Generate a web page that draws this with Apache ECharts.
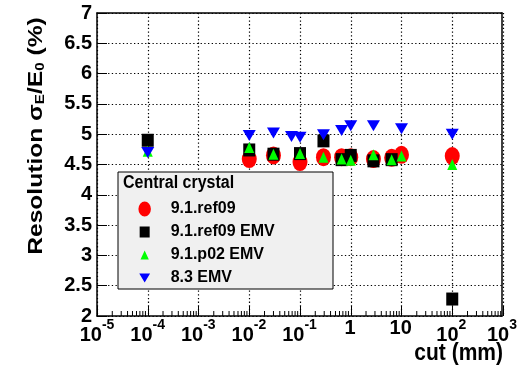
<!DOCTYPE html>
<html>
<head>
<meta charset="utf-8">
<script src="https://cdn.jsdelivr.net/npm/echarts@6/dist/echarts.min.js"></script>
<style>
html,body{margin:0;padding:0;background:#fff;}
#wrap{position:relative;width:520px;height:367px;}
#a,#b{position:absolute;left:0;top:0;width:520px;height:367px;}
</style>
</head>
<body>
<div id="wrap"><div id="a"></div><div id="b"></div></div>
<script>
// ---- data ----
const cuts = [1e-4, 0.01, 0.03, 0.068, 0.1, 0.29, 0.66, 1, 2.8, 6.4, 10, 100];
const ref09 = [null, 4.59, 4.65, null, 4.54, 4.62, 4.62, 4.62, 4.59, 4.61, 4.66, 4.64];
const ref09EMV = [4.90, 4.74, 4.67, null, 4.68, 4.89, 4.58, 4.65, 4.56, 4.58, null, 2.28];
const p02EMV = [4.72, 4.78, 4.67, null, 4.68, 4.62, 4.59, 4.57, 4.66, 4.58, 4.64, 4.50];
const emv83 = [4.70, 4.98, 5.02, 4.96, 4.95, 4.99, 5.06, 5.14, 5.14, null, 5.09, 5.00];
const seriesNames = ['9.1.ref09', '9.1.ref09 EMV', '9.1.p02 EMV', '8.3 EMV'];
const xTickLabels = {'-5':'{b|10}{s|-5}','-4':'{b|10}{s|-4}','-3':'{b|10}{s|-3}','-2':'{b|10}{s|-2}','-1':'{b|10}{s|-1}','0':'{b|1}','1':'{b|10}','2':'{b|10}{s|2}','3':'{b|10}{s|3}'};
const legendTitle = 'Central crystal';
const xTitle = 'cut (mm)';

function pairs(vals){ const out=[]; vals.forEach((v,i)=>{ if(v!==null) out.push([cuts[i], v]); }); return out; }
const minorTicks = [];
for (let e=-5; e<3; e++) for (let k=2; k<10; k++) minorTicks.push([k*Math.pow(10,e), 2]);

const FONT = 'Liberation Sans';
const downTri = 'path://M0,0 L12,0 L6,11 Z';
const GRID = {left:97, right:17, top:13, bottom:51};
const markerStyles = [
  {symbol:'circle', symbolSize:[15,18], color:'#ff0000'},
  {symbol:'rect', symbolSize:[12,13], color:'#000000'},
  {symbol:'triangle', symbolSize:[10,11], color:'#00ff00'},
  {symbol:downTri, symbolSize:[13,11], color:'#0000ff'}
];
const seriesData = [ref09, ref09EMV, p02EMV, emv83];

// ---- layer A: grid lines, ticks, minor ticks and the data ----
const chartA = echarts.init(document.getElementById('a'));
chartA.setOption({
  animation:false,
  grid:GRID,
  xAxis:{type:'log', logBase:10, min:1e-5, max:1e3,
    axisLine:{show:false},
    axisTick:{show:true, inside:true, length:10, lineStyle:{color:'#000', width:1}},
    axisLabel:{show:false},
    splitLine:{show:true, lineStyle:{color:'#000', type:[1.3,2.4], width:1.2}}},
  yAxis:{type:'value', min:2, max:7, interval:0.5,
    axisLine:{show:false},
    axisTick:{show:true, inside:true, length:10, lineStyle:{color:'#000', width:1}},
    axisLabel:{show:false},
    splitLine:{show:true, lineStyle:{color:'#000', type:[1.3,2.4], width:1.2}}},
  series: seriesData.map((vals, i) => ({
    name:seriesNames[i], type:'scatter', data:pairs(vals),
    symbol:markerStyles[i].symbol, symbolSize:markerStyles[i].symbolSize,
    itemStyle:{color:markerStyles[i].color, opacity:1}, z:5+i
  })).concat([{
    type:'custom', data:minorTicks, clip:false, silent:true, z:4,
    renderItem:(params, api)=>{
      const p = api.coord([api.value(0), api.value(1)]);
      return {type:'line', shape:{x1:p[0], y1:p[1], x2:p[0], y2:p[1]-5}, style:{stroke:'#000', lineWidth:1}};
    }
  }])
});

// ---- layer B: frame, tick labels, titles and legend ----
const frameOnly = {axisLine:{show:true, onZero:false, lineStyle:{color:'#000', width:1.5}}, axisTick:{show:false}, axisLabel:{show:false}, splitLine:{show:false}};
const chartB = echarts.init(document.getElementById('b'));
chartB.setOption({
  animation:false,
  backgroundColor:'transparent',
  grid:GRID,
  xAxis:[{
    type:'log', logBase:10, min:1e-5, max:1e3,
    axisLine:{show:true, onZero:false, lineStyle:{color:'#000', width:1.5}},
    axisTick:{show:false}, splitLine:{show:false},
    axisLabel:{
      margin:2, color:'#000',
      formatter:(v)=>{ const e=Math.round(Math.log10(v)); return xTickLabels[String(e)] || ''; },
      rich:{
        b:{fontFamily:FONT, fontWeight:'bold', fontSize:20, color:'#000'},
        s:{fontFamily:FONT, fontWeight:'bold', fontSize:14, padding:[0,0,20,0], color:'#000'}
      }
    }
  }, Object.assign({type:'log', logBase:10, min:1e-5, max:1e3, position:'top'}, frameOnly)],
  yAxis:[{
    type:'value', min:2, max:7, interval:0.5,
    axisLine:{show:true, onZero:false, lineStyle:{color:'#000', width:1.5}},
    axisTick:{show:false}, splitLine:{show:false},
    axisLabel:{margin:5, color:'#000', fontFamily:FONT, fontWeight:'bold', fontSize:20}
  }, Object.assign({type:'value', min:2, max:7, interval:0.5, position:'right'}, frameOnly)],
  legend:{
    show:true, orient:'vertical', left:138, top:201, selectedMode:false,
    itemWidth:42, itemHeight:15, itemGap:7, padding:0,
    textStyle:{fontFamily:FONT, fontWeight:'bold', fontSize:16, color:'#000', lineHeight:16},
    data:[
      {name:seriesNames[0], icon:'path://M0,0 L0,0 Z M16,18 L16,18 Z M8,0 A7.5,9 0 1 1 7.99,0 Z'},
      {name:seriesNames[1], icon:'path://M0,0 L0,0 Z M16,18 L16,18 Z M2,2.5 L14,2.5 L14,15.5 L2,15.5 Z'},
      {name:seriesNames[2], icon:'path://M0,0 L0,0 Z M16,18 L16,18 Z M8,3.5 L13,14.5 L3,14.5 Z'},
      {name:seriesNames[3], icon:'path://M0,0 L0,0 Z M16,18 L16,18 Z M1.5,3.5 L14.5,3.5 L8,14.5 Z'}
    ],
    z:12
  },
  graphic:[
    {type:'rect', z:10, shape:{x:118, y:172, width:215, height:117}, style:{fill:'#f0f0f0', stroke:'#000', lineWidth:1}},
    {type:'text', z:13, x:123, y:183, scaleY:1.15, style:{text:legendTitle, fontFamily:FONT, fontWeight:'bold', fontSize:16, fill:'#000', verticalAlign:'middle'}},
    {type:'text', z:13, x:503, y:354, scaleY:1.1, style:{text:xTitle, fontFamily:FONT, fontWeight:'bold', fontSize:21, fill:'#000', align:'right', verticalAlign:'middle'}},
    {type:'text', z:13, x:36, y:136, rotation:Math.PI/2, scaleX:1.17,
      style:{text:'{a|Resolution σ}{u|E}{a|/E}{u|0}{a| (%)}', align:'center', verticalAlign:'middle',
        rich:{
          a:{fontFamily:FONT, fontWeight:'bold', fontSize:21, lineHeight:21, padding:[0,0,5,0], verticalAlign:'top', fill:'#000'},
          u:{fontFamily:FONT, fontWeight:'bold', fontSize:13, lineHeight:13, verticalAlign:'bottom', fill:'#000'}
        }}}
  ],
  // legend entries only: the marks themselves are drawn in layer A
  series: seriesNames.map((n, i) => ({
    name:n, type:'scatter', data:[], symbol:markerStyles[i].symbol,
    itemStyle:{color:markerStyles[i].color, opacity:1}
  }))
});
</script>
</body>
</html>
